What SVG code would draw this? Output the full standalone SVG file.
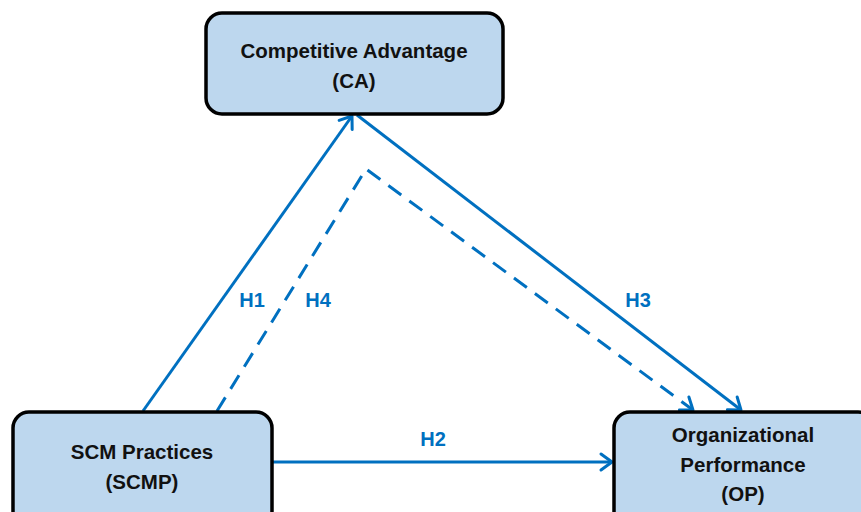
<svg xmlns="http://www.w3.org/2000/svg" width="861" height="512" viewBox="0 0 861 512">
<style>
.box{fill:#BDD7EE;stroke:#000;stroke-width:3.5}
.nt{font-family:"Liberation Sans",Arial,sans-serif;font-weight:bold;font-size:20.5px;fill:#111;text-anchor:middle}
.lbl{font-family:"Liberation Sans",Arial,sans-serif;font-weight:bold;font-size:20px;fill:#0070C0;text-anchor:middle}
.c{stroke:#0070C0;stroke-width:3;fill:none}
.d{stroke-dasharray:16,10}
</style>
<defs>
<marker id="ah" markerUnits="userSpaceOnUse" markerWidth="22" markerHeight="22" viewBox="0 0 22 22" refX="18" refY="11" orient="auto">
<path d="M7,3 L18,11 L7,19" fill="none" stroke="#0070C0" stroke-width="3" stroke-linecap="round" stroke-linejoin="round"/>
</marker>
</defs>
<g id="connectors">
<line class="c" x1="143" y1="411" x2="352" y2="116" marker-end="url(#ah)"/>
<line class="c" x1="357" y1="115" x2="741" y2="410" marker-end="url(#ah)"/>
<polyline class="c d" points="217,411 366,169 693,410" marker-end="url(#ah)"/>
<line class="c" x1="272" y1="462" x2="612" y2="462" marker-end="url(#ah)"/>
</g>
<g id="labels">
<text class="lbl" x="252" y="307">H1</text>
<text class="lbl" x="318" y="307">H4</text>
<text class="lbl" x="638" y="307">H3</text>
<text class="lbl" x="433" y="446">H2</text>
</g>
<g id="node-ca">
<rect class="box" x="206" y="13" width="297" height="101" rx="16"/>
<text class="nt" x="354" y="58">Competitive Advantage</text>
<text class="nt" x="354" y="88">(CA)</text>
</g>
<g id="node-scmp">
<rect class="box" x="13" y="412" width="259" height="115" rx="16"/>
<text class="nt" x="142" y="459">SCM Practices</text>
<text class="nt" x="142" y="489">(SCMP)</text>
</g>
<g id="node-op">
<rect class="box" x="614" y="412" width="260" height="115" rx="16"/>
<text class="nt" x="743" y="442">Organizational</text>
<text class="nt" x="743" y="472">Performance</text>
<text class="nt" x="743" y="501">(OP)</text>
</g>
</svg>
